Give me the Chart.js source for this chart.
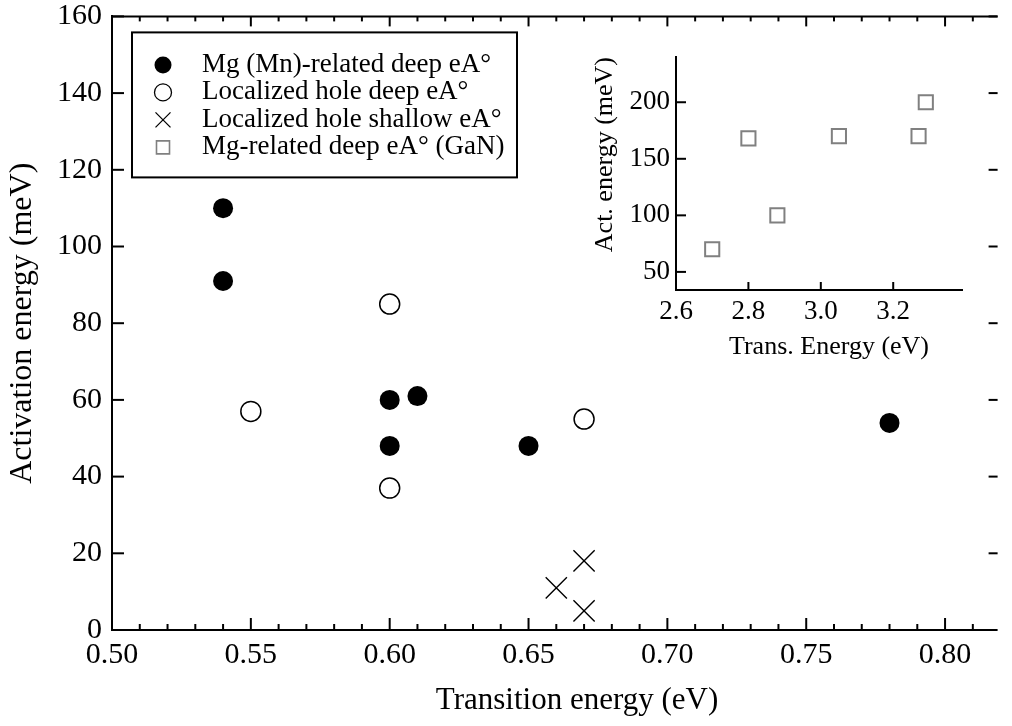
<!DOCTYPE html>
<html>
<head>
<meta charset="utf-8">
<script src="https://cdn.jsdelivr.net/npm/chart.js@4.4.1/dist/chart.umd.min.js"></script>
<style>
  html, body { margin: 0; padding: 0; background: #fff; overflow: hidden; width: 1012px; height: 726px; }
  #wrap { position: relative; width: 1012px; height: 726px; overflow: hidden; background: #fff; }
  #main { position: absolute; left: 0; top: 0; }
  #inset { position: absolute; left: 540px; top: 40px; }
</style>
</head>
<body>
<div id="wrap">
  <canvas id="main" width="1012" height="726" style="width:1012px;height:726px"></canvas>
  <canvas id="inset" width="440" height="340" style="width:440px;height:340px"></canvas>
</div>
<script>
// ---------------- data ----------------
const seriesLabels = [
  'Mg (Mn)-related deep eA°',
  'Localized hole deep eA°',
  'Localized hole shallow eA°',
  'Mg-related deep eA° (GaN)'
];
const mgMnX = [0.54, 0.54, 0.60, 0.60, 0.61, 0.65, 0.78];
const mgMnY = [110, 91, 60, 48, 61, 48, 54];
const holeDeepX = [0.55, 0.60, 0.60, 0.67];
const holeDeepY = [57, 85, 37, 55];
const holeShallowX = [0.66, 0.67, 0.67];
const holeShallowY = [11, 18, 5];
const ganX = [2.70, 2.80, 2.88, 3.05, 3.27, 3.29];
const ganY = [70, 168, 100, 170, 170, 200];

const xTicks = [0.50, 0.55, 0.60, 0.65, 0.70, 0.75, 0.80];
const xMinorTicks = [0.51, 0.52, 0.53, 0.54, 0.56, 0.57, 0.58, 0.59, 0.61, 0.62, 0.63, 0.64,
                     0.66, 0.67, 0.68, 0.69, 0.71, 0.72, 0.73, 0.74, 0.76, 0.77, 0.78, 0.79, 0.81];
const yTicks = [0, 20, 40, 60, 80, 100, 120, 140, 160];
const insetXTicks = [2.6, 2.8, 3.0, 3.2];
const insetYTicks = [50, 100, 150, 200];

const xTitle = 'Transition energy (eV)';
const yTitle = 'Activation energy (meV)';
const insetXTitle = 'Trans. Energy (eV)';
const insetYTitle = 'Act. energy (meV)';

// ---------------- helpers ----------------
const FONT = 'Liberation Serif';
const pts = (xs, ys) => xs.map((v, i) => ({ x: v, y: ys[i] }));

const frameTicks = {
  id: 'frameTicks',
  afterDraw(chart, args, o) {
    const { ctx, chartArea: a } = chart;
    const x = chart.scales.x, y = chart.scales.y;
    ctx.save();
    ctx.strokeStyle = '#000';
    ctx.lineWidth = 2;
    const seg = (x1, y1, x2, y2) => { ctx.beginPath(); ctx.moveTo(x1, y1); ctx.lineTo(x2, y2); ctx.stroke(); };
    if (o.box) {
      seg(a.left - 1, a.top, a.right + 2, a.top);
    }
    x.ticks.forEach(t => {
      const p = x.getPixelForValue(t.value);
      seg(p, a.bottom, p, a.bottom - o.xMajor);
      if (o.box) seg(p, a.top, p, a.top + o.topMajor);
    });
    (o.xMinor || []).forEach(v => {
      const p = x.getPixelForValue(v);
      seg(p, a.bottom, p, a.bottom - o.xMinorLen);
      if (o.box) seg(p, a.top, p, a.top + o.topMinor);
    });
    y.ticks.forEach(t => {
      const p = y.getPixelForValue(t.value);
      seg(a.left, p, a.left + o.yMajor, p);
      if (o.box) seg(a.right + 2, p, a.right - o.rightMajor, p);
    });
    ctx.restore();
  }
};

const legendBox = {
  id: 'legendBox',
  afterDraw(chart, args, o) {
    if (!o.items) return;
    const { ctx, chartArea: a } = chart;
    const L = a.left + o.left, T = a.top + o.top;
    ctx.save();
    ctx.fillStyle = '#fff';
    ctx.fillRect(L, T, o.width, o.height);
    ctx.strokeStyle = '#000';
    ctx.lineWidth = 2;
    ctx.strokeRect(L, T, o.width, o.height);
    ctx.font = o.font;
    ctx.textBaseline = 'middle';
    ctx.textAlign = 'left';
    o.items.forEach((it, i) => {
      const cy = T + o.firstRow + i * o.rowGap;
      ctx.fillStyle = it.fill;
      ctx.strokeStyle = it.stroke;
      ctx.lineWidth = it.lineWidth;
      Chart.helpers.drawPoint(ctx, { pointStyle: it.style, radius: it.radius, rotation: 0, borderWidth: it.lineWidth }, L + o.markerX, cy);
      ctx.fillStyle = '#000';
      ctx.fillText(it.text, L + o.textX, cy);
    });
    ctx.restore();
  }
};

// horizontal axis title placed relative to the chart area
const freeTitle = {
  id: 'freeTitle',
  afterDraw(chart, args, o) {
    if (!o.text) return;
    const { ctx, chartArea: a } = chart;
    ctx.save();
    ctx.font = o.font;
    ctx.fillStyle = '#000';
    ctx.textAlign = 'center';
    ctx.textBaseline = 'middle';
    ctx.fillText(o.text, a.left + o.dx, a.bottom + o.dy);
    ctx.restore();
  }
};

// ---------------- main chart ----------------
new Chart(document.getElementById('main'), {
  type: 'scatter',
  data: {
    datasets: [
      { label: seriesLabels[0], data: pts(mgMnX, mgMnY), pointStyle: 'circle', pointRadius: 10,
        backgroundColor: '#000', borderColor: '#000', borderWidth: 0 },
      { label: seriesLabels[1], data: pts(holeDeepX, holeDeepY), pointStyle: 'circle', pointRadius: 10,
        backgroundColor: '#fff', borderColor: '#000', borderWidth: 1.5 },
      { label: seriesLabels[2], data: pts(holeShallowX, holeShallowY), pointStyle: 'crossRot', pointRadius: 15,
        backgroundColor: '#000', borderColor: '#000', borderWidth: 1.4 }
    ]
  },
  plugins: [frameTicks, legendBox, freeTitle],
  options: {
    responsive: false,
    animation: false,
    events: [],
    layout: { padding: { top: 13, right: 0, left: 0, bottom: 0 } },
    plugins: {
      legend: { display: false },
      tooltip: { enabled: false },
      frameTicks: { box: true, xMajor: 12, xMinorLen: 6, topMajor: 10, topMinor: 5, yMajor: 12, rightMajor: 7, xMinor: xMinorTicks },
      legendBox: {
        left: 20, top: 16, width: 385, height: 145, markerX: 31, textX: 70, firstRow: 32.5, rowGap: 27.5,
        font: '27px "' + FONT + '"',
        items: [
          { text: seriesLabels[0], style: 'circle', radius: 8.5, fill: '#000', stroke: '#000', lineWidth: 0 },
          { text: seriesLabels[1], style: 'circle', radius: 8.5, fill: '#fff', stroke: '#000', lineWidth: 1.3 },
          { text: seriesLabels[2], style: 'crossRot', radius: 10.6, fill: '#000', stroke: '#000', lineWidth: 1.3 },
          { text: seriesLabels[3], style: 'rect', radius: 9.2, fill: 'rgba(0,0,0,0)', stroke: '#808080', lineWidth: 1.6 }
        ]
      },
      freeTitle: { text: xTitle, font: '31px "' + FONT + '"', dx: 465, dy: 71 }
    },
    scales: {
      x: {
        type: 'linear', min: 0.50, max: 0.8182,
        afterBuildTicks: s => { s.ticks = xTicks.map(v => ({ value: v })); },
        afterFit: s => { s.height = 96; s.paddingLeft = 0; s.paddingRight = 0; },
        grid: { display: false, drawTicks: false },
        border: { display: true, color: '#000', width: 2 },
        ticks: { color: '#000', padding: 7, maxRotation: 0, autoSkip: false,
                 font: { family: FONT, size: 30 }, callback: v => Number(v).toFixed(2) }
      },
      y: {
        type: 'linear', min: 0, max: 160,
        afterBuildTicks: s => { s.ticks = yTicks.map(v => ({ value: v })); },
        afterFit: s => { s.width = 112; s.paddingTop = 0; s.paddingBottom = 0; },
        grid: { display: false, drawTicks: false },
        border: { display: true, color: '#000', width: 2 },
        ticks: { color: '#000', padding: 10, autoSkip: false,
                 font: { family: FONT, size: 30 }, callback: v => String(v) },
        title: { display: true, text: yTitle, color: '#000', font: { family: FONT, size: 32 },
                 padding: { top: 3, bottom: 0 } }
      }
    }
  }
});

// ---------------- inset chart ----------------
new Chart(document.getElementById('inset'), {
  type: 'scatter',
  data: {
    datasets: [
      { label: seriesLabels[3], data: pts(ganX, ganY), pointStyle: 'rect', pointRadius: 10,
        backgroundColor: 'rgba(0,0,0,0)', borderColor: '#808080', borderWidth: 2 }
    ]
  },
  plugins: [frameTicks, freeTitle],
  options: {
    responsive: false,
    animation: false,
    events: [],
    layout: { padding: { top: 17, right: 18, left: 0, bottom: 0 } },
    plugins: {
      legend: { display: false },
      tooltip: { enabled: false },
      frameTicks: { box: false, xMajor: 8, yMajor: 10 },
      freeTitle: { text: insetXTitle, font: '26px "' + FONT + '"', dx: 153, dy: 57 }
    },
    scales: {
      x: {
        type: 'linear', min: 2.6, max: 3.39,
        afterBuildTicks: s => { s.ticks = insetXTicks.map(v => ({ value: v })); },
        afterFit: s => { s.height = 90; s.paddingLeft = 0; s.paddingRight = 0; },
        grid: { display: false, drawTicks: false },
        border: { display: true, color: '#000', width: 2 },
        ticks: { color: '#000', padding: 6, maxRotation: 0, autoSkip: false,
                 font: { family: FONT, size: 27 }, callback: v => Number(v).toFixed(1) }
      },
      y: {
        type: 'linear', min: 34, max: 240,
        afterBuildTicks: s => { s.ticks = insetYTicks.map(v => ({ value: v })); },
        afterFit: s => { s.width = 136; s.paddingTop = 0; s.paddingBottom = 0; },
        grid: { display: false, drawTicks: false },
        border: { display: true, color: '#000', width: 2 },
        ticks: { color: '#000', padding: 6, autoSkip: false,
                 font: { family: FONT, size: 27 }, callback: v => String(v) },
        title: { display: true, text: insetYTitle, align: 'end', color: '#000',
                 font: { family: FONT, size: 26 }, padding: { top: 49.5, bottom: 0 } }
      }
    }
  }
});
</script>
</body>
</html>
